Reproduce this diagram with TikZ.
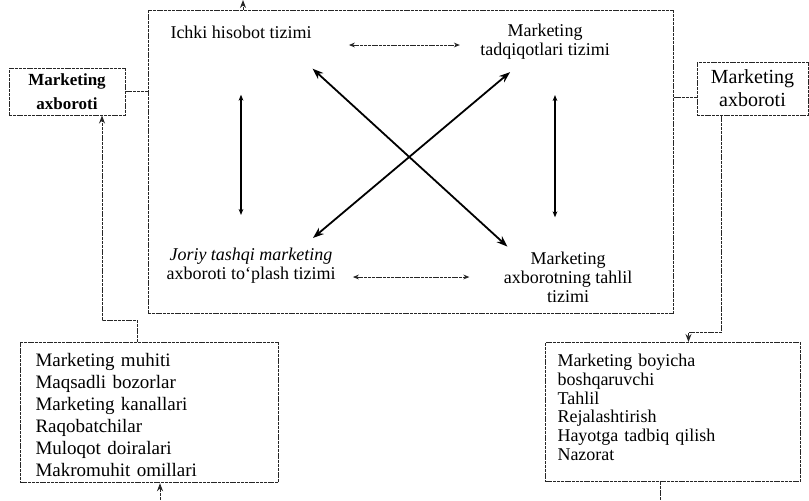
\documentclass[tikz,border=0pt]{standalone}
\usepackage{fontspec}
\setmainfont{Liberation Serif}
\usetikzlibrary{arrows.meta}
\begin{document}
\begin{tikzpicture}[x=0.5pt,y=-0.5pt,frame/.style={draw=black!85,line width=0.5pt,dash pattern=on 1.5pt off 0.4pt},sysbox/.style={frame,minimum width=262.5pt,minimum height=151.5pt,inner sep=0pt},infobox/.style={frame,inner sep=1pt,align=center},listbox/.style={frame,anchor=north west,align=left,inner ysep=3pt},sysname/.style={align=center,inner sep=1pt,font=\fontsize{9}{9.5}\selectfont},flowline/.style={frame},flowarrow/.style={frame,-{Stealth[length=4pt,width=3pt]}},linkv/.style={black,line width=0.6pt,{Stealth[length=3pt,width=2.4pt]}-{Stealth[length=3pt,width=2.4pt]}},linkh/.style={frame,{Stealth[length=3pt,width=2.4pt]}-{Stealth[length=3pt,width=2.4pt]}},linkd/.style={black,line width=0.9pt,{Stealth[length=5.5pt,width=4pt]}-{Stealth[length=5.5pt,width=4pt]}}]
\useasboundingbox (0,0) rectangle (809,500);

\node[sysbox] (mainbox) at (410.5,161.5) {};
\node[sysname] (ichki) at (241,32) {Ichki hisobot tizimi};
\node[sysname] (tadqiq) at (545,42) {Marketing\\tadqiqotlari tizimi};
\node[sysname] (joriy) at (251,266) {\textit{Joriy tashqi marketing}\\axboroti to‘plash tizimi};
\node[sysname] (tahlil) at (568,277) {Marketing\\axborotning tahlil\\tizimi};

\node[infobox,minimum width=58pt,minimum height=23.5pt,font=\bfseries\fontsize{8.5}{12}\selectfont] (linfo) at (67,91.5) {Marketing\\axboroti};
\node[infobox,minimum width=55.5pt,minimum height=26.5pt,font=\fontsize{10}{11.5}\selectfont] (rinfo) at (752.5,88.5) {Marketing\\axboroti};

\node[listbox,text width=114pt,inner xsep=7.5pt,font=\fontsize{9.5}{11}\selectfont] (envbox) at (20,342) {\rule{0pt}{9pt}Marketing muhiti\\Maqsadli bozorlar\\Marketing kanallari\\Raqobatchilar\\Muloqot doiralari\\Makromuhit omillari};
\node[listbox,text width=115.5pt,inner xsep=6pt,font=\fontsize{9}{9.4}\selectfont] (mgrbox) at (545,342) {\rule{0pt}{9pt}Marketing boyicha\\boshqaruvchi\\Tahlil\\Rejalashtirish\\Hayotga tadbiq qilish\\Nazorat\rule[-7.5pt]{0pt}{0pt}};

\coordinate (topout) at (243,0);
\coordinate (envin) at (160,500);
\coordinate (mgrout) at (660,500);

\draw[linkh,shorten <=17.5pt,shorten >=9pt] ([yshift=-6.5pt]ichki.east) -- ([yshift=-6.5pt]ichki.east -| tadqiq.west);
\draw[linkh,shorten <=7.5pt,shorten >=16pt] (joriy.east |- tahlil.west) -- (tahlil.west);
\draw[linkv,shorten <=27pt,shorten >=15.5pt] (ichki.south) -- (ichki.south |- joriy.north);
\draw[linkv,shorten <=16.5pt,shorten >=16pt] ([xshift=5pt]tadqiq.south) -- ([xshift=5pt]tadqiq.south |- tahlil.north);
\draw[linkd,shorten <=20.7pt,shorten >=2pt] ([xshift=20.5pt]ichki.south) -- ([xshift=4.5pt]tahlil.north west);
\draw[linkd,shorten <=7.8pt,shorten >=6.2pt] ([xshift=-11.5pt]tadqiq.south) -- ([xshift=26.25pt]joriy.north);

\draw[flowline] (linfo.east) -- (linfo.east -| mainbox.west);
\draw[flowline] ([yshift=-4.25pt]rinfo.west) -- ([yshift=-4.25pt]rinfo.west -| mainbox.east);
\draw[flowarrow] ([xshift=58.5pt]envbox.north west) -- ++(0,-22) -| ([xshift=17.5pt]linfo.south);
\draw[flowarrow] ([xshift=-15.5pt]rinfo.south) -- ++(0,217) -| ([xshift=7.75pt]mgrbox.north);
\draw[flowarrow] (topout |- mainbox.north) -- (topout);
\draw[flowarrow] (envin) -- (envin |- envbox.south);
\draw[flowline] (mgrout |- mgrbox.south) -- (mgrout);
\end{tikzpicture}
\end{document}
